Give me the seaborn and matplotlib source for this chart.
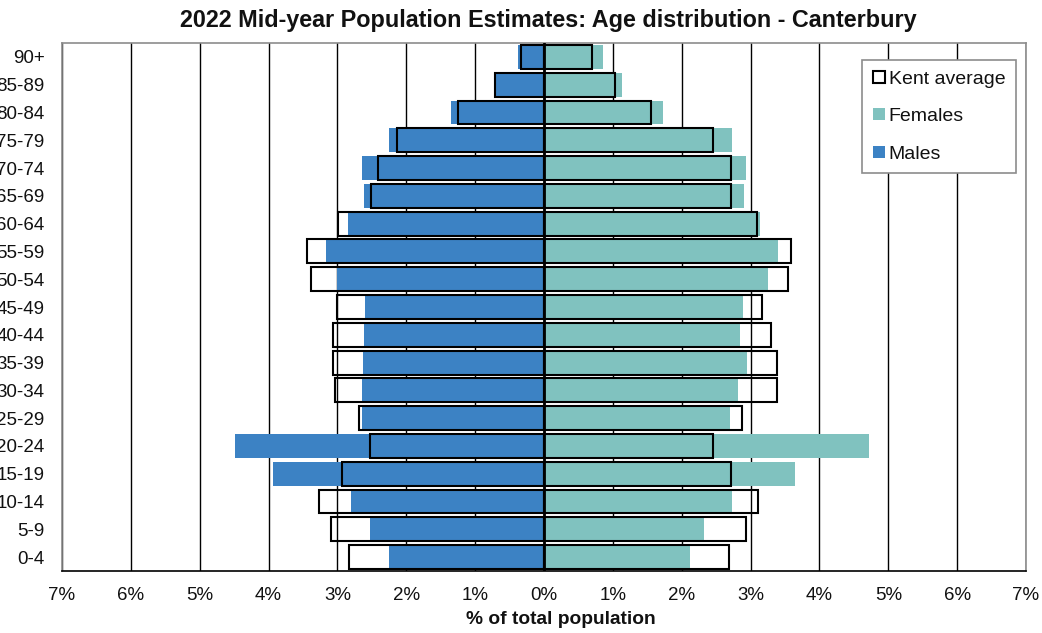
import matplotlib
matplotlib.use("Agg")
import matplotlib.pyplot as plt
from matplotlib.patches import Patch
from matplotlib.ticker import FixedLocator, FuncFormatter
import pandas as pd
import seaborn as sns

# Age bands, oldest first so they read top to bottom
ages = ["90+", "85-89", "80-84", "75-79", "70-74", "65-69", "60-64", "55-59",
        "50-54", "45-49", "40-44", "35-39", "30-34", "25-29", "20-24", "15-19",
        "10-14", "5-9", "0-4"]

# Canterbury, % of total population
males = [0.38, 0.73, 1.35, 2.25, 2.64, 2.61, 2.85, 3.17, 3.00, 2.60, 2.62,
         2.63, 2.64, 2.64, 4.49, 3.93, 2.80, 2.53, 2.25]
females = [0.86, 1.13, 1.73, 2.73, 2.93, 2.90, 3.14, 3.40, 3.26, 2.89, 2.85,
           2.95, 2.82, 2.70, 4.72, 3.64, 2.73, 2.32, 2.12]

# Kent average, % of total population
kent_males = [0.33, 0.71, 1.25, 2.14, 2.41, 2.51, 2.99, 3.44, 3.38, 3.00, 3.07,
              3.07, 3.04, 2.69, 2.53, 2.93, 3.27, 3.09, 2.83]
kent_females = [0.70, 1.03, 1.56, 2.46, 2.71, 2.71, 3.10, 3.58, 3.55, 3.17, 3.30,
                3.39, 3.38, 2.87, 2.45, 2.72, 3.11, 2.94, 2.68]

x_ticks = list(range(-7, 8))

BLUE = "#3c82c4"
TEAL = "#80c2bf"
FRAME = "#8c8c8c"
INK = "#111111"

df = pd.DataFrame({
    "age": ages,
    "males": [-v for v in males],
    "females": females,
    "kent_males": [-v for v in kent_males],
    "kent_females": kent_females,
})

sns.set_theme(style="white")
plt.rcParams["font.family"] = ["Liberation Sans", "DejaVu Sans"]

W, H = 1042, 633
ax_l, ax_r, ax_t, ax_b = 62, 1026, 43, 571
fig = plt.figure(figsize=(W / 100, H / 100), dpi=100)
ax = fig.add_axes([ax_l / W, 1 - ax_b / H, (ax_r - ax_l) / W, (ax_b - ax_t) / H])

bar_w = 0.86
sns.barplot(data=df, x="males", y="age", order=ages, orient="h", color=BLUE,
            width=bar_w, saturation=1, linewidth=0, ax=ax, zorder=2)
sns.barplot(data=df, x="females", y="age", order=ages, orient="h", color=TEAL,
            width=bar_w, saturation=1, linewidth=0, ax=ax, zorder=2)
for col in ["kent_males", "kent_females"]:
    sns.barplot(data=df, x=col, y="age", order=ages, orient="h", color="black",
                fill=False, width=bar_w, linewidth=1.5, ax=ax, zorder=3)

# Vertical zero line
ax.axvline(0, color="black", lw=2.0, zorder=4)

ax.set_xlim(-7, 7)
ax.xaxis.set_major_locator(FixedLocator(x_ticks))
ax.xaxis.set_major_formatter(FuncFormatter(lambda v, p: f"{abs(int(round(v)))}%"))
ax.grid(axis="x", color="black", lw=1.0)
ax.grid(axis="y", visible=False)
ax.set_axisbelow(True)

ax.tick_params(axis="x", which="major", direction="out", length=4, width=1,
               color="black", labelsize=13.5, pad=7.5)
ax.tick_params(axis="y", length=0, labelsize=13.5, pad=12.5)
ax.tick_params(axis="both", labelcolor=INK)

for side in ["top", "left", "right"]:
    ax.spines[side].set_color(FRAME)
    ax.spines[side].set_linewidth(1.2)
ax.spines["bottom"].set_color("black")
ax.spines["bottom"].set_linewidth(1.2)

ax.set_ylabel("")
ax.set_xlabel("% of total population", fontsize=13.8, fontweight="bold", color=INK)
ax.xaxis.set_label_coords((561 - ax_l) / (ax_r - ax_l), (ax_b - 611) / (ax_b - ax_t))

fig.suptitle("2022 Mid-year Population Estimates: Age distribution - Canterbury",
             x=548 / W, y=1 - 20 / H, va="center",
             fontsize=16.85, fontweight="bold", color=INK)

handles = [
    Patch(facecolor="white", edgecolor="black", linewidth=1.5, label="Kent average"),
    Patch(facecolor=TEAL, edgecolor="none", label="Females"),
    Patch(facecolor=BLUE, edgecolor="none", label="Males"),
]
leg = ax.legend(handles=handles, loc="upper right",
                bbox_to_anchor=((1016 - ax_l) / (ax_r - ax_l), (ax_b - 60) / (ax_b - ax_t)),
                fontsize=14, frameon=True, fancybox=False, framealpha=1,
                edgecolor=FRAME, handlelength=0.6, handleheight=0.6,
                handletextpad=0.2, labelspacing=1.05, borderpad=0.55,
                borderaxespad=0)
leg.get_frame().set_linewidth(1.2)
leg.set_zorder(10)
for t in leg.get_texts():
    t.set_color(INK)

fig.savefig("out.png", dpi=100)
